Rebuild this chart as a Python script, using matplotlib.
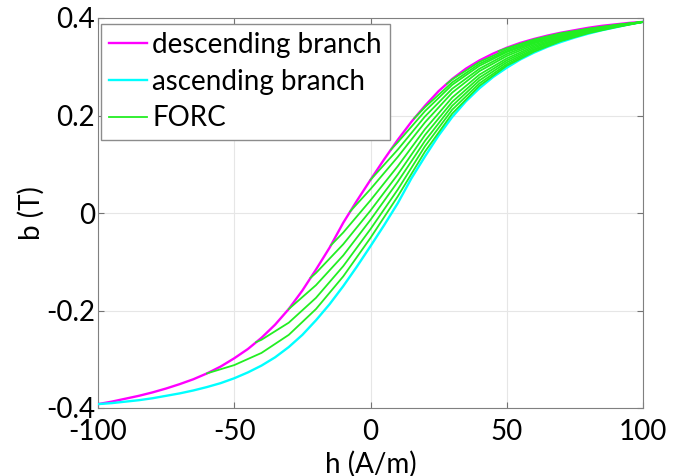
import matplotlib
matplotlib.use("Agg")
import matplotlib.pyplot as plt
import numpy as np

# major loop, sampled every 5 A/m
h_branch = [-100, -95, -90, -85, -80, -75, -70, -65, -60, -55,
            -50, -45, -40, -35, -30, -25, -20, -15, -10, -5,
            0, 5, 10, 15, 20, 25, 30, 35, 40, 45,
            50, 55, 60, 65, 70, 75, 80, 85, 90, 95, 100]
desc_b = [-0.392, -0.387, -0.381, -0.375, -0.368, -0.360, -0.351, -0.341, -0.329, -0.315,
          -0.298, -0.279, -0.256, -0.229, -0.197, -0.159, -0.116, -0.071, -0.020, 0.025,
          0.068, 0.110, 0.150, 0.187, 0.220, 0.250, 0.275, 0.296, 0.313, 0.327,
          0.339, 0.349, 0.357, 0.364, 0.370, 0.375, 0.380, 0.384, 0.387, 0.390, 0.392]
asc_b = [-0.392, -0.390, -0.387, -0.384, -0.380, -0.375, -0.370, -0.364, -0.357, -0.349,
         -0.339, -0.327, -0.313, -0.296, -0.275, -0.250, -0.220, -0.187, -0.150, -0.110,
         -0.068, -0.025, 0.020, 0.071, 0.116, 0.159, 0.197, 0.229, 0.256, 0.279,
         0.298, 0.315, 0.329, 0.341, 0.351, 0.360, 0.368, 0.375, 0.381, 0.387, 0.392]

# first order reversal curves: reversal point + values every 10 A/m
forc_h0 = [-60, -42, -30, -22, -14.5, -7.5, 0, 7.5, 16, 28, 47]
forc_b0 = [-0.329, -0.265, -0.197, -0.133, -0.066, 0.003, 0.068, 0.130, 0.194, 0.265, 0.332]
forc_h = [-50, -40, -30, -20, -10, 0, 10, 20, 30, 40, 50, 60, 70, 80, 90, 100]
nan = np.nan
forc_b = [
    [-0.312, -0.287, -0.250, -0.197, -0.130, -0.051, 0.034, 0.126, 0.204, 0.261, 0.302, 0.331, 0.353, 0.369, 0.381, 0.392],
    [nan, -0.260, -0.225, -0.174, -0.109, -0.033, 0.048, 0.137, 0.212, 0.266, 0.305, 0.334, 0.354, 0.370, 0.382, 0.392],
    [nan, nan, nan, -0.148, -0.087, -0.014, 0.064, 0.148, 0.220, 0.272, 0.309, 0.336, 0.356, 0.371, 0.382, 0.392],
    [nan, nan, nan, -0.123, -0.064, 0.005, 0.079, 0.160, 0.228, 0.278, 0.313, 0.339, 0.358, 0.372, 0.383, 0.392],
    [nan, nan, nan, nan, -0.040, 0.026, 0.096, 0.172, 0.237, 0.284, 0.317, 0.342, 0.359, 0.373, 0.383, 0.392],
    [nan, nan, nan, nan, nan, 0.049, 0.115, 0.186, 0.247, 0.291, 0.322, 0.345, 0.361, 0.374, 0.384, 0.392],
    [nan, nan, nan, nan, nan, nan, 0.130, 0.198, 0.255, 0.296, 0.326, 0.348, 0.363, 0.375, 0.384, 0.392],
    [nan, nan, nan, nan, nan, nan, 0.145, 0.209, 0.263, 0.302, 0.330, 0.350, 0.365, 0.376, 0.385, 0.392],
    [nan, nan, nan, nan, nan, nan, nan, 0.217, 0.268, 0.306, 0.332, 0.352, 0.366, 0.377, 0.385, 0.392],
    [nan, nan, nan, nan, nan, nan, nan, nan, 0.274, 0.310, 0.335, 0.354, 0.367, 0.378, 0.385, 0.392],
    [nan, nan, nan, nan, nan, nan, nan, nan, nan, nan, 0.338, 0.356, 0.369, 0.378, 0.386, 0.392],
]

x_ticks = [-100, -50, 0, 50, 100]
x_tick_labels = ["-100", "-50", "0", "50", "100"]
y_ticks = [-0.4, -0.2, 0, 0.2, 0.4]
y_tick_labels = ["-0.4", "-0.2", "0", "0.2", "0.4"]

plt.rcParams["font.family"] = ["Lato", "DejaVu Sans"]
fs = 20

fig = plt.figure(figsize=(6.91, 4.76), dpi=100)
ax = fig.add_axes([98 / 691, 1 - 408 / 476, 545 / 691, 390 / 476])

ax.plot(h_branch, desc_b, color="#ff00ff", lw=1.7, label="descending branch", zorder=3)
ax.plot(h_branch, asc_b, color="#00ffff", lw=1.7, label="ascending branch", zorder=3)
grid_h = np.array(forc_h)
for i in range(len(forc_h0)):
    vals = np.array(forc_b[i])
    ok = ~np.isnan(vals)
    hh = [forc_h0[i]] + list(grid_h[ok])
    bb = [forc_b0[i]] + list(vals[ok])
    ax.plot(hh, bb, color="#22ee22", lw=1.3, zorder=4,
            label="FORC" if i == 0 else None)

ax.set_xlim(-100, 100)
ax.set_ylim(-0.4, 0.4)
ax.set_xticks(x_ticks)
ax.set_xticklabels(x_tick_labels)
ax.set_yticks(y_ticks)
ax.set_yticklabels(y_tick_labels)
ax.grid(True, color="#e6e6e6", lw=0.8)
ax.set_axisbelow(True)
ax.tick_params(direction="in", length=4, width=0.8, color="0.45",
               labelsize=fs, top=True, right=True)
ax.tick_params(axis="y", pad=2)
ax.tick_params(axis="x", pad=8)
for sp in ax.spines.values():
    sp.set_color("0.5")
    sp.set_linewidth(0.8)

ax.set_xlabel("h (A/m)", fontsize=fs, labelpad=4)
ax.set_ylabel("b (T)", fontsize=fs, labelpad=1)

ax.legend(loc="upper left", bbox_to_anchor=(0.0055, 0.985), borderaxespad=0,
          frameon=True, fancybox=False, edgecolor="0.55", framealpha=1,
          fontsize=fs, handlelength=1.35, handletextpad=0.2,
          labelspacing=0.38, borderpad=0.3)

fig.savefig("out.png", dpi=100)
